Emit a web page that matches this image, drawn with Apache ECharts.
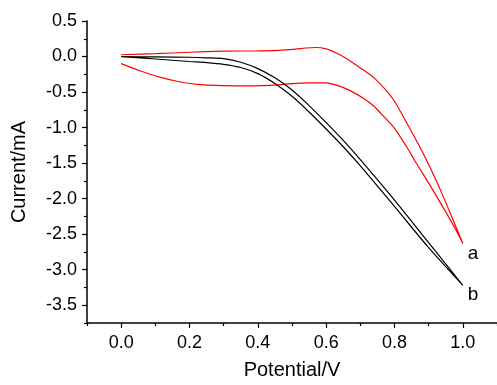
<!DOCTYPE html>
<html>
<head>
<meta charset="utf-8">
<script src="https://cdn.jsdelivr.net/npm/echarts@6/dist/echarts.min.js"></script>
<style>
  html, body { margin: 0; padding: 0; background: #fff; }
  #main { width: 497px; height: 385px; }
</style>
</head>
<body>
<div id="main"></div>
<script>
// curve a (red): forward branch 0 -> 1.0 V, then back
var aFwdX = [0, 0.1, 0.2, 0.3, 0.4, 0.46, 0.51, 0.54, 0.57, 0.6, 0.63, 0.66, 0.7, 0.74, 0.78, 0.8, 0.84, 0.875, 0.9, 0.94, 0.98, 1.0];
var aFwdY = [0.025, 0.04, 0.06, 0.075, 0.08, 0.088, 0.105, 0.12, 0.127, 0.108, 0.05, -0.03, -0.16, -0.30, -0.50, -0.63, -0.97, -1.28, -1.52, -1.94, -2.40, -2.63];
var aRevX = [1.0, 0.975, 0.92, 0.86, 0.838, 0.8, 0.76, 0.74, 0.71, 0.67, 0.635, 0.6, 0.55, 0.5, 0.46, 0.374, 0.3, 0.23, 0.17, 0.113, 0.055, 0];
var aRevY = [-2.63, -2.40, -1.94, -1.47, -1.29, -1.01, -0.80, -0.70, -0.59, -0.48, -0.41, -0.37, -0.37, -0.38, -0.40, -0.414, -0.41, -0.395, -0.355, -0.29, -0.20, -0.10];

// curve b (black)
var bFwdX = [0, 0.1, 0.2, 0.25, 0.3, 0.35, 0.4, 0.45, 0.5, 0.55, 0.6, 0.65, 0.7, 0.8, 0.9, 1.0];
var bFwdY = [0.0, -0.005, -0.01, -0.018, -0.03, -0.08, -0.17, -0.30, -0.47, -0.69, -0.93, -1.18, -1.45, -2.02, -2.62, -3.22];
var bRevX = [1.0, 0.9, 0.8, 0.7, 0.65, 0.6, 0.55, 0.5, 0.45, 0.4, 0.35, 0.3, 0.25, 0.2, 0.1, 0];
var bRevY = [-3.25, -2.69, -2.11, -1.54, -1.27, -1.02, -0.78, -0.56, -0.38, -0.24, -0.155, -0.11, -0.085, -0.07, -0.035, 0.0];

var xMajor = [0, 0.2, 0.4, 0.6, 0.8, 1.0];
var xMinor = [-0.1, 0.1, 0.3, 0.5, 0.7, 0.9, 1.1];
var yMajor = [0.5, 0, -0.5, -1.0, -1.5, -2.0, -2.5, -3.0, -3.5];
var yMinor = [0.25, -0.25, -0.75, -1.25, -1.75, -2.25, -2.75, -3.25, -3.75];

var FONT = 'Liberation Sans, Arial, Helvetica, sans-serif';

var pairs = function (xs, ys) {
  return xs.map(function (x, i) { return [x, ys[i]]; });
};
var aData = pairs(aFwdX, aFwdY).concat(pairs(aRevX, aRevY).slice(1));
var bData = pairs(bFwdX, bFwdY).concat(pairs(bRevX, bRevY).slice(1));

var fmt = function (v) { return v.toFixed(1); };

var xBase = {
  type: 'value', min: -0.1, max: 1.1,
  splitLine: { show: false }
};
var yBase = {
  type: 'value', min: -3.75, max: 0.5,
  splitLine: { show: false }
};

var chart = echarts.init(document.getElementById('main'));
chart.setOption({
  animation: false,
  backgroundColor: '#fff',
  grid: { left: 87, right: -4, top: 21, bottom: 57 },
  xAxis: [
    Object.assign({}, xBase, {
      name: 'Potential/V',
      nameLocation: 'middle',
      nameGap: 37,
      nameTextStyle: { fontFamily: FONT, fontSize: 20, color: '#000' },
      axisLine: { show: true, onZero: false, lineStyle: { color: '#000', width: 1.5 } },
      axisTick: { show: true, customValues: xMajor, length: 5, lineStyle: { color: '#000', width: 1.2 } },
      axisLabel: { customValues: xMajor, formatter: fmt, margin: 11, fontFamily: FONT, fontSize: 18, color: '#000' }
    }),
    Object.assign({}, xBase, {
      position: 'bottom',
      axisLine: { show: false, onZero: false },
      axisTick: { show: true, customValues: xMinor, length: 3, lineStyle: { color: '#000', width: 1.2 } },
      axisLabel: { show: false }
    })
  ],
  yAxis: [
    Object.assign({}, yBase, {
      name: 'Current/mA',
      nameLocation: 'middle',
      nameGap: 58,
      nameTextStyle: { fontFamily: FONT, fontSize: 20, color: '#000' },
      axisLine: { show: true, onZero: false, lineStyle: { color: '#000', width: 1.5 } },
      axisTick: { show: true, customValues: yMajor, length: 5, lineStyle: { color: '#000', width: 1.2 } },
      axisLabel: { customValues: yMajor, formatter: fmt, margin: 10, fontFamily: FONT, fontSize: 18, color: '#000' }
    }),
    Object.assign({}, yBase, {
      position: 'left',
      axisLine: { show: false, onZero: false },
      axisTick: { show: true, customValues: yMinor, length: 3, lineStyle: { color: '#000', width: 1.2 } },
      axisLabel: { show: false }
    })
  ],
  series: [
    {
      name: 'a', type: 'line', data: aData, smooth: 0.3,
      showSymbol: false, symbol: 'none',
      lineStyle: { color: '#ff0000', width: 1.2 },
      markPoint: {
        symbol: 'circle', symbolSize: 0,
        data: [{ coord: [aFwdX[aFwdX.length - 1], aFwdY[aFwdY.length - 1]] }],
        label: { show: true, formatter: 'a', position: 'right', offset: [0, 10], fontFamily: FONT, fontSize: 19, color: '#000' }
      }
    },
    {
      name: 'b', type: 'line', data: bData, smooth: 0.3,
      showSymbol: false, symbol: 'none',
      lineStyle: { color: '#000', width: 1.2 },
      markPoint: {
        symbol: 'circle', symbolSize: 0,
        data: [{ coord: [bFwdX[bFwdX.length - 1], bFwdY[bFwdY.length - 1]] }],
        label: { show: true, formatter: 'b', position: 'right', offset: [0, 9], fontFamily: FONT, fontSize: 19, color: '#000' }
      }
    }
  ]
});
</script>
</body>
</html>
